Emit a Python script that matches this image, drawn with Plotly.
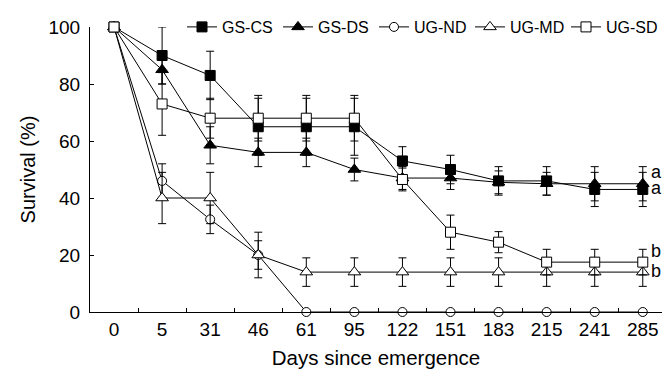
import plotly.graph_objects as go

days = ["0", "5", "31", "46", "61", "95", "122", "151", "183", "215", "241", "285"]

gs_cs = [100, 90, 83, 65, 65, 65, 53, 50, 46, 46, 43, 43]
gs_cs_err = [0, 10, 8.5, 10, 10, 10, 5, 5, 5, 5, 6, 6]
gs_ds = [100, 85, 58.5, 56, 56, 50, 47, 47, 45.5, 45, 45, 45]
gs_ds_err = [0, 5, 6.5, 5, 5, 4, 4, 4, 4, 4, 6, 6]
ug_nd = [100, 46, 32.5, 20, 0, 0, 0, 0, 0, 0, 0, 0]
ug_nd_err = [0, 6, 5, 8, 0, 0, 0, 0, 0, 0, 0, 0]
ug_md = [100, 40, 40, 20, 14, 14, 14, 14, 14, 14, 14, 14]
ug_md_err = [0, 9, 9, 5, 5, 5, 5, 5, 5, 5, 5, 5]
ug_sd = [100, 73, 68, 68, 68, 68, 46.5, 28, 24.5, 17.5, 17.5, 17.5]
ug_sd_err = [0, 11, 7, 8, 8, 8, 4, 6, 3.7, 4.5, 4.5, 4.5]

series_names = ["GS-CS", "GS-DS", "UG-ND", "UG-MD", "UG-SD"]
sig_letters = ["a", "a", "b", "b"]  # for GS-DS, GS-CS, UG-SD, UG-MD

FONT = "Liberation Sans, Arial, sans-serif"

styles = [
    dict(symbol="square", color="black", size=10),
    dict(symbol="triangle-up", color="black", size=11),
    dict(symbol="circle", color="white", size=9),
    dict(symbol="triangle-up", color="white", size=11),
    dict(symbol="square", color="white", size=10),
]
data = [(gs_cs, gs_cs_err), (gs_ds, gs_ds_err), (ug_nd, ug_nd_err),
        (ug_md, ug_md_err), (ug_sd, ug_sd_err)]

fig = go.Figure()
for name, (vals, errs), st in zip(series_names, data, styles):
    fig.add_trace(go.Scatter(
        x=days, y=vals, name=name, mode="lines+markers",
        line=dict(color="black", width=1),
        marker=dict(symbol=st["symbol"], size=st["size"], color=st["color"],
                    line=dict(color="black", width=1)),
        error_y=dict(type="data", array=errs, visible=True,
                     color="black", thickness=1, width=4),
        cliponaxis=False,
    ))

# significance letters next to final points (category axis -> use index)
last_idx = len(days) - 1
letter_targets = [(gs_ds[-1], 12), (gs_cs[-1], 1), (ug_sd[-1], 11), (ug_md[-1], 1)]
for letter, (yv, shift) in zip(sig_letters, letter_targets):
    fig.add_annotation(x=last_idx, y=yv, text=letter, showarrow=False,
                       xanchor="left", xshift=6, yshift=shift,
                       font=dict(family=FONT, size=18, color="black"))

fig.update_layout(
    width=662, height=369,
    margin=dict(l=90, r=0, t=27, b=57),
    paper_bgcolor="white", plot_bgcolor="white",
    font=dict(family=FONT, color="black"),
    showlegend=True,
    legend=dict(orientation="h", x=1.0, xanchor="right", y=1.0, yanchor="middle",
                entrywidth=51, entrywidthmode="pixels",
                font=dict(family=FONT, size=16, color="black"),
                bgcolor="rgba(0,0,0,0)", borderwidth=0),
    xaxis=dict(
        type="category", range=[-0.5, 11.4],
        showline=True, linecolor="black", linewidth=1,
        ticks="inside", tickson="boundaries", ticklen=4, tickcolor="black",
        showgrid=False, zeroline=False,
        tickfont=dict(family=FONT, size=19, color="black"),
        title=dict(text="Days since emergence", font=dict(family=FONT, size=20.5, color="black"),
                   standoff=13),
    ),
    yaxis=dict(
        range=[0, 100], tickvals=[0, 20, 40, 60, 80, 100],
        showline=True, linecolor="black", linewidth=1,
        ticks="inside", ticklen=4, tickcolor="black",
        showgrid=False, zeroline=False, ticklabelstandoff=5,
        tickfont=dict(family=FONT, size=19, color="black"),
        title=dict(text="Survival (%)", font=dict(family=FONT, size=20, color="black"),
                   standoff=7),
    ),
)

fig.write_html("out.html")
